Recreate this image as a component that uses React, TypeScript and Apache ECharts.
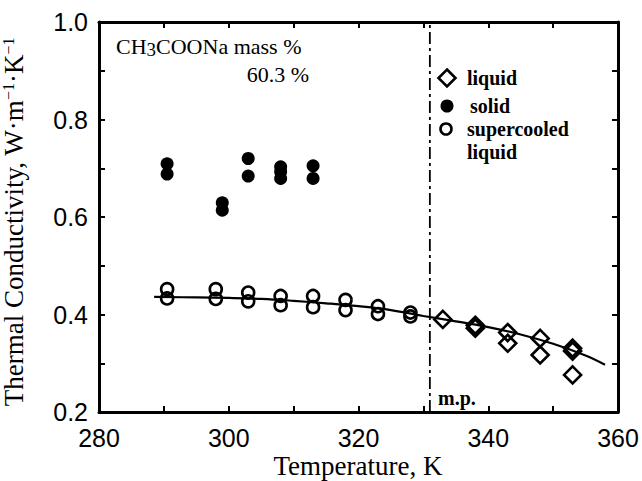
import React, { useEffect, useRef } from "react";
import * as echarts from "echarts";

const liquidData: [number, number][] = [
  [333, 0.39], [338, 0.378], [338, 0.372], [343, 0.363], [343, 0.341],
  [348, 0.351], [348, 0.317], [353, 0.331], [353, 0.325], [353, 0.276],
];
const solidData: [number, number][] = [
  [290.5, 0.709], [290.5, 0.688], [299, 0.629], [299, 0.614],
  [303, 0.72], [303, 0.684], [308, 0.703], [308, 0.693], [308, 0.679],
  [313, 0.705], [313, 0.679],
];
const supercooledData: [number, number][] = [
  [290.5, 0.452], [290.5, 0.433], [298, 0.452], [298, 0.432],
  [303, 0.445], [303, 0.427], [308, 0.438], [308, 0.419],
  [313, 0.438], [313, 0.415], [318, 0.43], [318, 0.409],
  [323, 0.417], [323, 0.401], [328, 0.404], [328, 0.396],
];
const fitLine: [number, number][] = [
  [288.5, 0.436], [295, 0.435], [300, 0.434], [305, 0.432], [310, 0.428],
  [315, 0.423], [320, 0.417], [325, 0.409], [330, 0.397], [335, 0.386],
  [340, 0.374], [345, 0.359], [350, 0.34], [355, 0.316], [358, 0.297],
];
const meltingPoint = 331;
const xRange = [280, 360];
const yRange = [0.2, 1.0];

const SERIF = "'Liberation Serif', 'DejaVu Serif', serif";
const SANS = "'Liberation Sans', Arial, sans-serif";

export default function App() {
  const ref = useRef<HTMLDivElement>(null);
  useEffect(() => {
    if (!ref.current) return;
    const chart = echarts.init(ref.current, null, { renderer: "svg" });
    const axisLine = { show: true, lineStyle: { color: "#000", width: 3 } };
    const tick = { show: true, inside: true, length: 6, lineStyle: { color: "#000", width: 2 } };
    const xBase = {
      type: "value" as const, min: xRange[0], max: xRange[1], interval: 10,
      splitLine: { show: false }, axisLine, axisTick: tick,
    };
    const yBase = {
      type: "value" as const, min: yRange[0], max: yRange[1], interval: 0.1,
      splitLine: { show: false }, axisLine, axisTick: tick,
    };
    const legendFont = `bold 20px ${SERIF}`;
    chart.setOption({
      animation: false,
      backgroundColor: "#fff",
      grid: { left: 99, right: 24, top: 22, bottom: 69 },
      xAxis: [
        {
          ...xBase, position: "bottom",
          axisLabel: {
            margin: 13, color: "#000", fontSize: 25, fontFamily: SANS,
            formatter: (v: number) => (Math.round(v) % 20 === 0 ? String(v) : ""),
          },
        },
        { ...xBase, position: "top", axisLabel: { show: false } },
      ],
      yAxis: [
        {
          ...yBase, position: "left",
          axisLabel: {
            margin: 11, color: "#000", fontSize: 25, fontFamily: SANS,
            formatter: (v: number) => (Math.round(v * 10) % 2 === 0 ? v.toFixed(1) : ""),
          },
        },
        { ...yBase, position: "right", axisLabel: { show: false } },
      ],
      series: [
        {
          type: "line", data: fitLine, smooth: 0.4, symbol: "none",
          lineStyle: { color: "#000", width: 2.2 }, z: 2,
        },
        {
          type: "line", data: [[meltingPoint, yRange[0]], [meltingPoint, yRange[1]]],
          symbol: "none", lineStyle: { color: "#000", width: 1.8, type: [12, 4, 3, 4] }, z: 1,
        },
        {
          type: "scatter", name: "liquid", data: liquidData, symbol: "diamond", symbolSize: 17,
          itemStyle: { color: "transparent", borderColor: "#000", borderWidth: 2.6, opacity: 1 }, z: 3,
        },
        {
          type: "scatter", name: "solid", data: solidData, symbol: "circle", symbolSize: 13,
          itemStyle: { color: "#000", opacity: 1 }, z: 3,
        },
        {
          type: "scatter", name: "supercooled liquid", data: supercooledData, symbol: "circle",
          symbolSize: 12,
          itemStyle: { color: "transparent", borderColor: "#000", borderWidth: 2.6, opacity: 1 }, z: 3,
        },
      ],
      graphic: [
        {
          type: "text", x: 358, y: 466,
          style: {
            text: "Temperature, K", font: `27px ${SERIF}`, fill: "#000",
            textAlign: "center", textVerticalAlign: "middle",
          },
        },
        {
          type: "text", x: 14, y: 222, rotation: Math.PI / 2,
          style: {
            text: "{a|Thermal Conductivity, W·m}{s|−1}{a|·K}{s|−1}",
            textAlign: "center", textVerticalAlign: "middle",
            rich: {
              a: { fontSize: 27, fontFamily: SERIF, fill: "#000", verticalAlign: "bottom" },
              s: { fontSize: 16, fontFamily: SERIF, fill: "#000", verticalAlign: "top" },
            },
          },
        },
        {
          type: "text", x: 116, y: 47,
          style: {
            text: "{a|CH}{b|3}{a|COONa mass %}", textAlign: "left", textVerticalAlign: "middle",
            rich: {
              a: { fontSize: 22, fontFamily: SERIF, fill: "#000", verticalAlign: "top" },
              b: { fontSize: 19, fontFamily: SERIF, fill: "#000", verticalAlign: "bottom", padding: [4, 0, 0, 0] },
            },
          },
        },
        {
          type: "text", x: 309, y: 74,
          style: {
            text: "60.3 %", font: `22px ${SERIF}`, fill: "#000",
            textAlign: "right", textVerticalAlign: "middle",
          },
        },
        {
          type: "text", x: 438, y: 398,
          style: {
            text: "m.p.", font: `bold 20px ${SERIF}`, fill: "#000",
            textAlign: "left", textVerticalAlign: "middle",
          },
        },
        // legend
        {
          type: "polygon", shape: { points: [[447, 69.5], [455.5, 78], [447, 86.5], [438.5, 78]] },
          style: { fill: "transparent", stroke: "#000", lineWidth: 2.6 },
        },
        {
          type: "text", x: 467, y: 78,
          style: { text: "liquid", font: legendFont, fill: "#000", textAlign: "left", textVerticalAlign: "middle" },
        },
        {
          type: "circle", shape: { cx: 447, cy: 106, r: 6.5 }, style: { fill: "#000" },
        },
        {
          type: "text", x: 470, y: 106,
          style: { text: "solid", font: legendFont, fill: "#000", textAlign: "left", textVerticalAlign: "middle" },
        },
        {
          type: "circle", shape: { cx: 446, cy: 129, r: 5.5 },
          style: { fill: "transparent", stroke: "#000", lineWidth: 2.6 },
        },
        {
          type: "text", x: 467, y: 129,
          style: { text: "supercooled", font: legendFont, fill: "#000", textAlign: "left", textVerticalAlign: "middle" },
        },
        {
          type: "text", x: 467, y: 152,
          style: { text: "liquid", font: legendFont, fill: "#000", textAlign: "left", textVerticalAlign: "middle" },
        },
      ],
    });
    return () => chart.dispose();
  }, []);
  return (
    <div
      ref={ref}
      style={{ position: "absolute", left: 0, top: 0, width: 642, height: 481 }}
    />
  );
}
